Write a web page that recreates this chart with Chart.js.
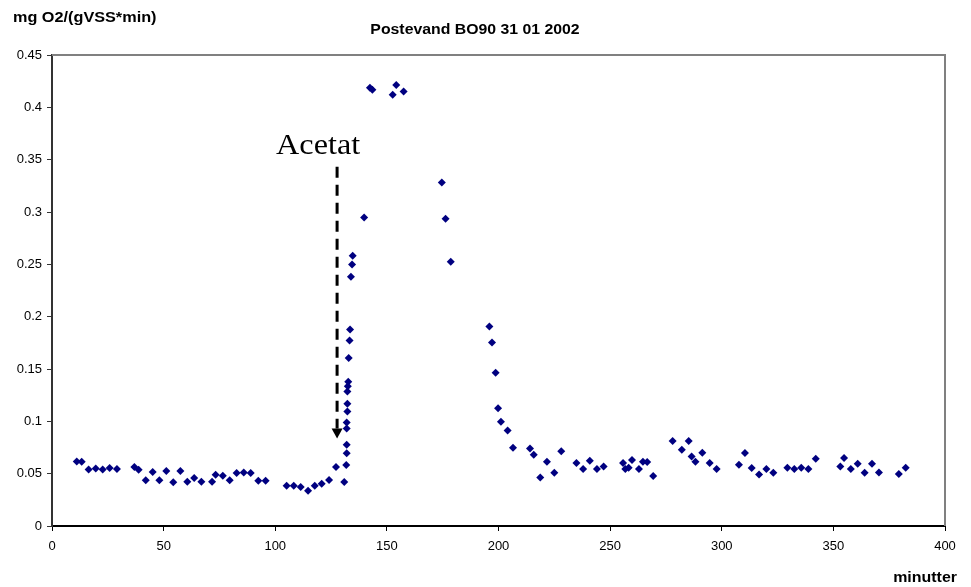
<!DOCTYPE html>
<html>
<head>
<meta charset="utf-8">
<script src="https://cdn.jsdelivr.net/npm/chart.js@4/dist/chart.umd.min.js"></script>
<style>
    html, body { margin: 0; padding: 0; background: #fff; }
    #wrap { width: 971px; height: 587px; }
</style>
</head>
<body>
<div id="wrap"><canvas id="oxyChart" width="971" height="587"></canvas></div>
<script>
// minutes since start
const minutes = [
    11.1, 13.3, 16.4, 19.6, 22.7, 25.8, 29.1, 36.9, 38.8, 42.0,
    45.1, 48.1, 51.2, 54.3, 57.5, 60.6, 63.7, 66.9, 71.7, 73.3,
    76.5, 79.6, 82.7, 85.9, 89.0, 92.4, 95.7, 105.1, 108.3, 111.4,
    114.7, 117.7, 120.8, 124.1, 127.2, 130.9, 131.8, 132.0, 132.0, 132.0,
    132.0, 132.3, 132.3, 132.3, 132.5, 132.7, 132.9, 133.3, 133.5, 133.9,
    134.4, 134.7, 139.8, 142.4, 143.5, 152.6, 154.2, 157.5, 174.6, 176.3,
    178.6, 195.9, 197.1, 198.7, 199.8, 201.1, 204.1, 206.5, 214.1, 215.8,
    218.7, 221.7, 225.0, 228.1, 234.9, 237.9, 240.9, 244.1, 247.1, 255.8,
    256.8, 258.3, 259.8, 262.9, 264.7, 266.6, 269.3, 278.0, 282.1, 285.2,
    286.5, 288.2, 291.3, 294.6, 297.7, 307.7, 310.4, 313.4, 316.7, 320.0,
    323.1, 329.4, 332.5, 335.6, 338.8, 342.1, 353.1, 354.8, 357.8, 360.9,
    364.0, 367.3, 370.4, 379.3, 382.4,
];

// mg O2/(gVSS*min)
const rates = [
    0.0617, 0.0614, 0.0541, 0.0550, 0.0541, 0.0554, 0.0545, 0.0564, 0.0538, 0.0436,
    0.0516, 0.0436, 0.0525, 0.0417, 0.0525, 0.0423, 0.0459, 0.0423, 0.0423, 0.0490,
    0.0481, 0.0436, 0.0506, 0.0512, 0.0506, 0.0433, 0.0433, 0.0385, 0.0385, 0.0373,
    0.0337, 0.0385, 0.0404, 0.0439, 0.0564, 0.0420, 0.0583, 0.0694, 0.0777, 0.0932,
    0.0990, 0.1095, 0.1168, 0.1286, 0.1334, 0.1379, 0.1605, 0.1773, 0.1878, 0.2382,
    0.2499, 0.2582, 0.2948, 0.4188, 0.4168, 0.4121, 0.4213, 0.4152, 0.3283, 0.2936,
    0.2525, 0.1907, 0.1754, 0.1465, 0.1124, 0.0996, 0.0913, 0.0748, 0.0741, 0.0681,
    0.0464, 0.0614, 0.0509, 0.0713, 0.0602, 0.0545, 0.0624, 0.0545, 0.0569, 0.0602,
    0.0545, 0.0557, 0.0631, 0.0545, 0.0614, 0.0611, 0.0478, 0.0812, 0.0729, 0.0812,
    0.0665, 0.0614, 0.0700, 0.0602, 0.0545, 0.0586, 0.0697, 0.0554, 0.0493, 0.0545,
    0.0509, 0.0557, 0.0545, 0.0557, 0.0545, 0.0643, 0.0569, 0.0650, 0.0545, 0.0595,
    0.0509, 0.0595, 0.0512, 0.0497, 0.0557,
];

const xTicks = [0, 50, 100, 150, 200, 250, 300, 350, 400];
const yTicks = [0, 0.05, 0.1, 0.15, 0.2, 0.25, 0.3, 0.35, 0.4, 0.45];

// acetate dosing arrow: x, top y, tip y (data units)
const acetatArrow = [127.7, 0.3433, 0.0837];
const acetatLabel = [119.2, 0.3557];

const points = minutes.map((m, i) => ({x: m, y: rates[i]}));

function stretchText(ctx, text, x, y, sx, align) {
    ctx.save();
    ctx.translate(x, y);
    ctx.scale(sx, 1);
    ctx.textAlign = align;
    ctx.fillText(text, 0, 0);
    ctx.restore();
}

const decor = {
    id: 'decor',
    beforeDatasetsDraw(chart) {
        const {ctx, chartArea: a} = chart;
        // grey frame on top and right
        ctx.save();
        ctx.strokeStyle = '#808080';
        ctx.lineWidth = 2;
        ctx.beginPath();
        ctx.moveTo(a.left, a.top);
        ctx.lineTo(a.right, a.top);
        ctx.lineTo(a.right, a.bottom);
        ctx.stroke();
        ctx.restore();
    },
    afterDraw(chart) {
        const ctx = chart.ctx;
        const xs = chart.scales.x, ys = chart.scales.y;

        ctx.save();
        ctx.fillStyle = '#000';
        ctx.textBaseline = 'middle';
        ctx.font = 'bold 14px "Liberation Sans", Arial, sans-serif';
        stretchText(ctx, 'mg O2/(gVSS*min)', 13, 18, 1.16, 'left');
        stretchText(ctx, 'Postevand BO90 31 01 2002', 475, 30, 1.13, 'center');
        stretchText(ctx, 'minutter', 957, 578, 1.14, 'right');

        // Acetat label
        ctx.textBaseline = 'alphabetic';
        ctx.font = '29px "Liberation Serif", "Times New Roman", serif';
        stretchText(ctx, 'Acetat', xs.getPixelForValue(acetatLabel[0]),
            ys.getPixelForValue(acetatLabel[1]), 1.11, 'center');

        // dashed arrow
        const ax = xs.getPixelForValue(acetatArrow[0]);
        const top = ys.getPixelForValue(acetatArrow[1]);
        const tip = ys.getPixelForValue(acetatArrow[2]);
        ctx.strokeStyle = '#000';
        ctx.lineWidth = 3;
        ctx.setLineDash([11, 7]);
        ctx.beginPath();
        ctx.moveTo(ax, top);
        ctx.lineTo(ax, tip - 10);
        ctx.stroke();
        ctx.setLineDash([]);
        ctx.beginPath();
        ctx.moveTo(ax - 5.5, tip - 10);
        ctx.lineTo(ax + 5.5, tip - 10);
        ctx.lineTo(ax, tip);
        ctx.closePath();
        ctx.fill();
        ctx.restore();
    }
};

const tickFont = {family: '"Liberation Sans", Arial, sans-serif', size: 13};

const config = {
    type: 'scatter',
    data: {
        datasets: [{
            data: points,
            pointStyle: 'rectRot',
            pointRadius: 4,
            pointBackgroundColor: '#000080',
            pointBorderColor: '#000080',
            pointBorderWidth: 0,
        }],
    },
    options: {
        responsive: false,
        animation: false,
        layout: {
            padding: {top: 55, right: 26, left: 0, bottom: 0}
        },
        scales: {
            x: {
                type: 'linear',
                min: 0,
                max: 400,
                afterFit: (s) => { s.height = 61; },
                afterBuildTicks: (s) => { s.ticks = xTicks.map(v => ({value: v})); },
                border: {color: '#000', width: 2},
                grid: {drawOnChartArea: false, tickLength: 5, color: '#000', tickWidth: 1},
                ticks: {color: '#000', font: tickFont, padding: 8, maxRotation: 0},
            },
            y: {
                type: 'linear',
                min: 0,
                max: 0.45,
                afterFit: (s) => { s.width = 52; },
                afterBuildTicks: (s) => { s.ticks = yTicks.map(v => ({value: v})); },
                border: {color: '#333', width: 2},
                grid: {drawOnChartArea: false, tickLength: 5, color: '#333', tickWidth: 1},
                ticks: {
                    color: '#000',
                    font: tickFont,
                    padding: 5,
                    callback: (v) => String(Number(v.toFixed(2))),
                },
            },
        },
        plugins: {
            // no legend in the original
            legend: {display: false},
            tooltip: {enabled: false},
        },
    },
    plugins: [decor],
};

const oxyChart = new Chart(document.getElementById('oxyChart'), config);
</script>
</body>
</html>
